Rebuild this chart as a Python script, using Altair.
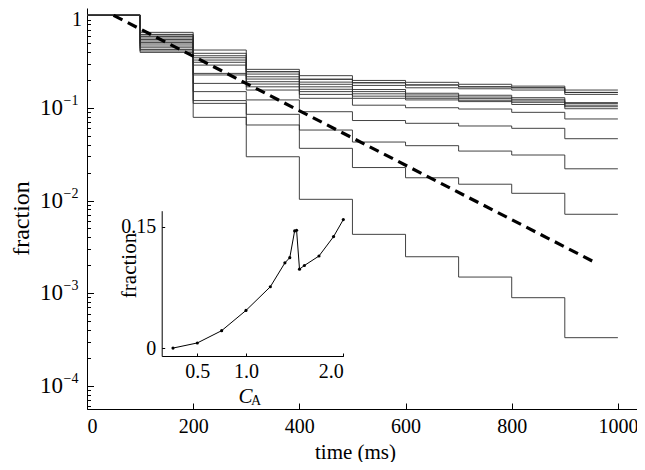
import altair as alt
import pandas as pd

FONT = "Liberation Serif, Times New Roman, DejaVu Serif, serif"

# ---------------- data ----------------
step_times = [0, 100, 200, 300, 400, 500, 600, 700, 800, 900]
end_time = 1000

c01 = [1, 0.398, 0.0791, 0.0297, 0.0103, 0.00431, 0.00247, 0.00149, 0.000892, 0.00033]
c02 = [1, 0.412, 0.112, 0.0654, 0.0366, 0.0227, 0.0176, 0.0150, 0.01196, 0.0071]
c03 = [1, 0.427, 0.120, 0.0853, 0.0577, 0.0428, 0.0391, 0.0342, 0.0310, 0.022]
c04 = [1, 0.446, 0.150, 0.122, 0.0910, 0.0731, 0.0682, 0.0638, 0.0602, 0.0465]
c05 = [1, 0.466, 0.184, 0.156, 0.127, 0.107, 0.1005, 0.0973, 0.0896, 0.076]
c06 = [1, 0.490, 0.227, 0.169, 0.140, 0.127, 0.122, 0.117, 0.109, 0.098]
c07 = [1, 0.508, 0.236, 0.181, 0.150, 0.134, 0.127, 0.121, 0.115, 0.103]
c08 = [1, 0.528, 0.290, 0.192, 0.159, 0.142, 0.132, 0.126, 0.119, 0.107]
c09 = [1, 0.548, 0.311, 0.205, 0.169, 0.150, 0.138, 0.131, 0.124, 0.112]
c10 = [1, 0.569, 0.329, 0.217, 0.180, 0.158, 0.144, 0.137, 0.129, 0.114]
c11 = [1, 0.590, 0.348, 0.232, 0.190, 0.175, 0.165, 0.161, 0.156, 0.140]
c12 = [1, 0.613, 0.366, 0.246, 0.204, 0.187, 0.177, 0.169, 0.165, 0.147]
c13 = [1, 0.623, 0.389, 0.246, 0.204, 0.187, 0.177, 0.169, 0.165, 0.147]
c14 = [1, 0.655, 0.422, 0.261, 0.223, 0.198, 0.189, 0.180, 0.172, 0.156]
curves = [c01, c02, c03, c04, c05, c06, c07, c08, c09, c10, c11, c12, c13, c14]

dash_t = [50, 960]
dash_v = [1.0, 0.0021]

inset_ca = [0.25, 0.5, 0.75, 1.0, 1.25, 1.4, 1.45, 1.5, 1.52, 1.55, 1.6, 1.75, 1.9, 2.0]
inset_frac = [0.0003, 0.0066, 0.0218, 0.0468, 0.076, 0.1056, 0.112, 0.145, 0.1458,
              0.0978, 0.1023, 0.114, 0.138, 0.159]

x_ticks = [0, 200, 400, 600, 800, 1000]
y_dec_vals = [1e-1, 1e-2, 1e-3, 1e-4]
y_dec_base = ["10", "10", "10", "10"]
y_dec_exp = ["\u22121", "\u22122", "\u22123", "\u22124"]
y_one = [1.0]
y_minor = [m * 10.0 ** k for k in range(-5, 1) for m in range(1, 10)
           if 5.6e-5 <= m * 10.0 ** k <= 1.2]
inset_x_ticks = [0.5, 1.0, 2.0]
inset_y_ticks = [0, 0.15]

# ---------------- tables ----------------
rows = []
for i, vals in enumerate(curves):
    for t, v in zip(step_times, vals):
        rows.append({"curve": i, "t": t, "v": v})
    rows.append({"curve": i, "t": end_time, "v": vals[-1]})
step_df = pd.DataFrame(rows)
dash_df = pd.DataFrame({"t": dash_t, "v": dash_v})
inset_df = pd.DataFrame({"ca": inset_ca, "f": inset_frac})
dec_df = pd.DataFrame({"v": y_dec_vals, "base": y_dec_base, "exp": y_dec_exp})
one_df = pd.DataFrame({"v": y_one, "lab": ["1"]})

# ---------------- geometry ----------------
W, H = 550, 401
IX0, IX1 = 74.7, 256.3     # inset x range (plot px)
IY0, IY1 = 348, 202.7      # inset y range (plot px)

x_main = alt.Scale(domain=[0, 1036], nice=False, zero=False)
y_main = alt.Scale(type="log", domain=[5.6e-5, 1.2], nice=False)

x_axis_main = alt.Axis(orient="bottom", values=x_ticks, tickSize=0, labelPadding=7,
                       labelFontSize=20, title="time (ms)", titleFontSize=21,
                       titleX=268, titleY=49, titleBaseline="alphabetic",
                       titleAlign="center", format="d")
y_axis_main = alt.Axis(orient="left", values=[1e-4, 1e-3, 1e-2, 1e-1, 1],
                       labels=False, tickSize=0,
                       title="fraction", titleFontSize=24, titleX=-59, titleY=210,
                       titleBaseline="alphabetic", titleAlign="center")

steps = alt.Chart(step_df).mark_line(
    interpolate="step-after", color="#2e2e2e", strokeWidth=0.9
).encode(
    x=alt.X("t:Q", scale=x_main, axis=x_axis_main),
    y=alt.Y("v:Q", scale=y_main, axis=y_axis_main),
    detail="curve:N",
)

dash = alt.Chart(dash_df).mark_line(
    color="black", strokeWidth=3.2, strokeDash=[10, 6]
).encode(
    x=alt.X("t:Q", scale=x_main, axis=x_axis_main),
    y=alt.Y("v:Q", scale=y_main, axis=y_axis_main),
)

lab_base = alt.Chart(dec_df).mark_text(
    font=FONT, fontSize=23, align="right", baseline="middle", color="black"
).encode(text="base:N", x=alt.value(-24),
         y=alt.Y("v:Q", scale=y_main, axis=y_axis_main))

lab_exp = alt.Chart(dec_df).mark_text(
    font=FONT, fontSize=14, align="left", baseline="middle", color="black", dy=-7
).encode(text="exp:N", x=alt.value(-23.5),
         y=alt.Y("v:Q", scale=y_main, axis=y_axis_main))

lab_one = alt.Chart(one_df).mark_text(
    font=FONT, fontSize=20, align="right", baseline="middle", color="black", dy=4.5
).encode(text="lab:N", x=alt.value(-5),
         y=alt.Y("v:Q", scale=y_main, axis=y_axis_main))

main = alt.layer(steps, dash, lab_base, lab_exp, lab_one)

major_test = "abs(log(datum.value)/LN10 - round(log(datum.value)/LN10)) < 0.001"
ticks_main = alt.Chart(dash_df).mark_point(opacity=0).encode(
    x=alt.X("t:Q", scale=x_main,
            axis=alt.Axis(orient="top", offset=-H, values=x_ticks, tickSize=6,
                          labels=False, domain=False, title=None)),
    y=alt.Y("v:Q", scale=y_main,
            axis=alt.Axis(orient="right", offset=-W, values=y_minor,
                          tickSize={"condition": {"test": major_test, "value": 6.5},
                                    "value": 3.5},
                          labels=False, domain=False, title=None)),
)

x_in = alt.Scale(domain=[0.134, 2.0], range=[IX0, IX1], nice=False, zero=False)
y_in = alt.Scale(domain=[-0.0095, 0.17], range=[IY0, IY1], nice=False, zero=False)

inset = alt.Chart(inset_df).mark_line(
    color="black", strokeWidth=1,
    point=alt.OverlayMarkDef(filled=True, size=10, color="black"),
).encode(
    x=alt.X("ca:Q", scale=x_in,
            axis=alt.Axis(orient="bottom", offset=IY0 - H, values=inset_x_ticks,
                          format=".1f", tickSize=0, labelPadding=5, labelFontSize=20,
                          title="C", titleFontStyle="italic", titleFontSize=21,
                          titleX=158, titleY=46, titleBaseline="alphabetic",
                          titleAlign="center")),
    y=alt.Y("f:Q", scale=y_in,
            axis=alt.Axis(orient="left", offset=-IX0, values=inset_y_ticks,
                          labelExpr="datum.value == 0 ? '0' : format(datum.value, '.2f')",
                          tickSize=0, labelPadding=6, labelFontSize=20,
                          title="fraction", titleFontSize=21, titleX=-26, titleY=257,
                          titleBaseline="alphabetic", titleAlign="center")),
)

ticks_inset = alt.Chart(inset_df).mark_point(opacity=0).encode(
    x=alt.X("ca:Q", scale=x_in,
            axis=alt.Axis(orient="top", offset=-IY0, values=inset_x_ticks, tickSize=3,
                          labels=False, domain=False, title=None)),
    y=alt.Y("f:Q", scale=y_in,
            axis=alt.Axis(orient="right", offset=IX0 - W, values=inset_y_ticks,
                          tickSize=3, labels=False, domain=False, title=None)),
)

sub = alt.Chart(pd.DataFrame({"s": ["A"]})).mark_text(
    font=FONT, fontSize=14, align="left", baseline="alphabetic", color="black"
).encode(text="s:N", x=alt.value(164), y=alt.value(397))

chart = alt.layer(main, ticks_main, inset, ticks_inset, sub).resolve_scale(
    x="independent", y="independent"
).properties(
    width=W, height=H,
    autosize=alt.AutoSizeParams(type="none"),
    padding={"left": 79, "top": 0, "right": 0, "bottom": 53},
).configure_view(stroke=None).configure_axis(
    labelFont=FONT, titleFont=FONT, domainColor="black", tickColor="black",
    labelColor="black", titleColor="black", grid=False, titleFontWeight="normal",
    domainWidth=1, tickWidth=1,
)

chart.save("out.html", embed_options={"renderer": "svg", "actions": False})
